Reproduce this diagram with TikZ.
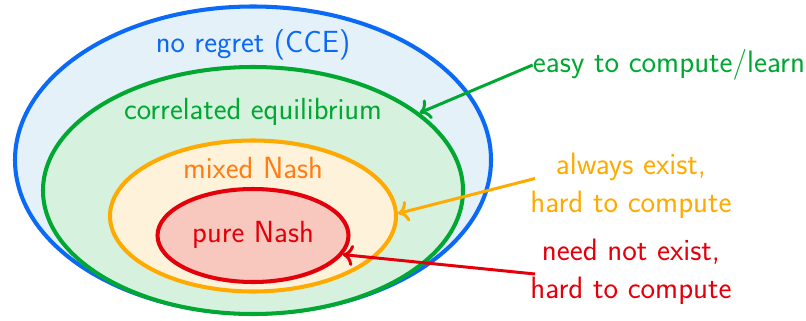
\documentclass[tikz,border=0pt]{standalone}
\usepackage{tikz}
\usetikzlibrary{arrows.meta,positioning,shapes.geometric}

\definecolor{cceblue}{RGB}{10,105,245}
\definecolor{ccefill}{RGB}{228,241,249}
\definecolor{cegreen}{RGB}{0,168,50}
\definecolor{cefill}{RGB}{214,242,223}
\definecolor{mixorange}{RGB}{255,170,0}
\definecolor{mixtext}{RGB}{255,125,20}
\definecolor{mixfill}{RGB}{255,242,218}
\definecolor{purered}{RGB}{228,0,10}
\definecolor{purefill}{RGB}{248,200,190}

\begin{document}
\begin{tikzpicture}[
		set/.style={ellipse, draw, line width=2.3pt, inner sep=0pt},
		lab/.style={font=\sffamily\fontsize{17.4}{21.6}\selectfont},
		note/.style={font=\sffamily\fontsize{17.6}{21.6}\selectfont, align=center, inner sep=0pt},
		arr/.style={line width=1.7pt, -{Computer Modern Rightarrow[length=6pt, width=12pt]}}
		]
		\useasboundingbox (0,0) rectangle (16.12,6.4);
		% nested sets
		\node[set, draw=cceblue, fill=ccefill, minimum width=9.52cm, minimum height=6.14cm] (cce) at (5.06,3.2) {};
		\node[set, draw=cegreen, fill=cefill, minimum width=8.4cm, minimum height=4.94cm] (ce) at (5.06,2.59) {};
		\node[set, draw=mixorange, fill=mixfill, minimum width=5.72cm, minimum height=3.02cm] (mixed) at (5.06,2.08) {};
		\node[set, draw=purered, fill=purefill, minimum width=3.82cm, minimum height=1.86cm] (pure) at (5.06,1.69) {};
		\node[lab, text=cceblue] (ccelab) at (5.06,5.5) {no regret (CCE)};
		\node[lab, text=cegreen] (celab) at (5.06,4.16) {correlated equilibrium};
		\node[lab, text=mixtext] (mixedlab) at (5.06,3.04) {mixed Nash};
		\node[lab, text=purered] (purelab) at (5.06,1.7) {pure Nash};
		% remarks
		\node[note, text=cegreen] (easy) at (13.38,5.1) {easy to compute/learn};
		\node[note, text=mixorange] (exist) at (12.62,2.68) {always exist,\\hard to compute};
		\node[note, text=purered] (notexist) at (12.62,0.97) {need not exist,\\hard to compute};
		\draw[arr, cegreen] (easy.west) -- (ce.25);
		\draw[arr, mixorange] ([xshift=1mm, yshift=1.5mm]exist.west) -- (mixed.1);
		\draw[arr, purered] ([xshift=1mm, yshift=-0.5mm]notexist.west) -- (pure.-12);
	\end{tikzpicture}
\end{document}
